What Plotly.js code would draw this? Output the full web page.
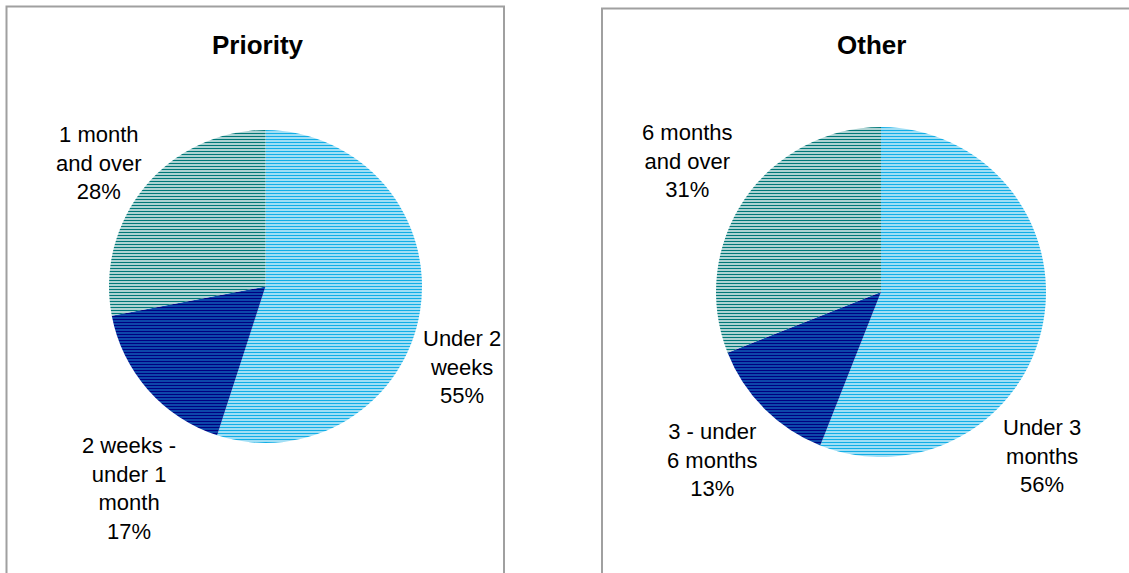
<!DOCTYPE html>
<html>
<head>
<meta charset="utf-8">
<script src="https://cdn.plot.ly/plotly-3.0.1.min.js"></script>
<style>
html, body { margin: 0; padding: 0; background: #ffffff; }
#chart { width: 1129px; height: 573px; }
</style>
</head>
<body>
<div id="chart"></div>
<script>
// ---- data ----
var priorityTitle = 'Priority';
var priorityLabels = ['Under 2<br>weeks', '2 weeks -<br>under 1<br>month', '1 month<br>and over'];
var priorityValues = [55, 17, 28];

var otherTitle = 'Other';
var otherLabels = ['Under 3<br>months', '3 - under<br>6 months', '6 months<br>and over'];
var otherValues = [56, 13, 31];

// ---- styling ----
var W = 1129, H = 573;
function px(x) { return x / W; }
function py(y) { return 1 - y / H; }

var sliceBg = ['#ffffff', '#22BFF0', '#ffffff'];
var sliceFg = ['#12AEE6', '#000080', '#007878'];
var sliceSolidity = [0.6, 0.75, 0.55];

function pieTrace(labels, values, cx, cy, r) {
  return {
    type: 'pie',
    labels: labels,
    values: values,
    sort: false,
    direction: 'clockwise',
    rotation: 0,
    textinfo: 'none',
    hoverinfo: 'label+percent',
    showlegend: false,
    domain: { x: [px(cx - r), px(cx + r)], y: [py(cy + r), py(cy - r)] },
    marker: {
      colors: sliceBg,
      line: { width: 0 },
      pattern: {
        shape: '-',
        fillmode: 'overlay',
        fgcolor: sliceFg,
        bgcolor: sliceBg,
        fgopacity: 1,
        size: 3,
        solidity: sliceSolidity
      }
    }
  };
}

function pct(values, i) {
  var t = values.reduce(function (a, b) { return a + b; }, 0);
  return Math.round(values[i] / t * 100) + '%';
}

var labelFont = { family: 'Liberation Sans, Arial, sans-serif', size: 22, color: '#000000' };
var titleFont = { family: 'Liberation Sans, Arial, sans-serif', size: 26, color: '#000000' };

function labelAnn(labels, values, i, x, y) {
  return {
    xref: 'paper', yref: 'paper', x: px(x), y: py(y),
    xanchor: 'center', yanchor: 'middle', showarrow: false, align: 'center',
    text: labels[i] + '<br>' + pct(values, i), font: labelFont
  };
}

var data = [
  pieTrace(priorityLabels, priorityValues, 265.5, 286.5, 156.5),
  pieTrace(otherLabels, otherValues, 881, 292, 165)
];

var annotations = [
  { xref: 'paper', yref: 'paper', x: px(258), y: py(45), xanchor: 'center', yanchor: 'middle',
    showarrow: false, text: '<b>' + priorityTitle + '</b>', font: titleFont },
  { xref: 'paper', yref: 'paper', x: px(871), y: py(45), xanchor: 'center', yanchor: 'middle',
    showarrow: false, text: '<b>' + otherTitle + '</b>', font: titleFont },
  labelAnn(priorityLabels, priorityValues, 0, 462, 366.5),
  labelAnn(priorityLabels, priorityValues, 1, 129, 488.5),
  labelAnn(priorityLabels, priorityValues, 2, 98.5, 163),
  labelAnn(otherLabels, otherValues, 0, 1042, 456),
  labelAnn(otherLabels, otherValues, 1, 712, 460),
  labelAnn(otherLabels, otherValues, 2, 687, 161.5)
];

var boxLine = { color: '#A0A0A0', width: 2 };
var shapes = [
  { type: 'rect', xref: 'paper', yref: 'paper', x0: px(6.5), x1: px(504), y0: py(6.5), y1: py(590), line: boxLine },
  { type: 'rect', xref: 'paper', yref: 'paper', x0: px(602), x1: px(1150), y0: py(8.5), y1: py(590), line: boxLine }
];

var layout = {
  width: W, height: H,
  margin: { l: 0, r: 0, t: 0, b: 0, pad: 0 },
  paper_bgcolor: '#ffffff',
  plot_bgcolor: '#ffffff',
  showlegend: false,
  annotations: annotations,
  shapes: shapes
};

Plotly.newPlot('chart', data, layout, { displayModeBar: false, staticPlot: true });
</script>
</body>
</html>
